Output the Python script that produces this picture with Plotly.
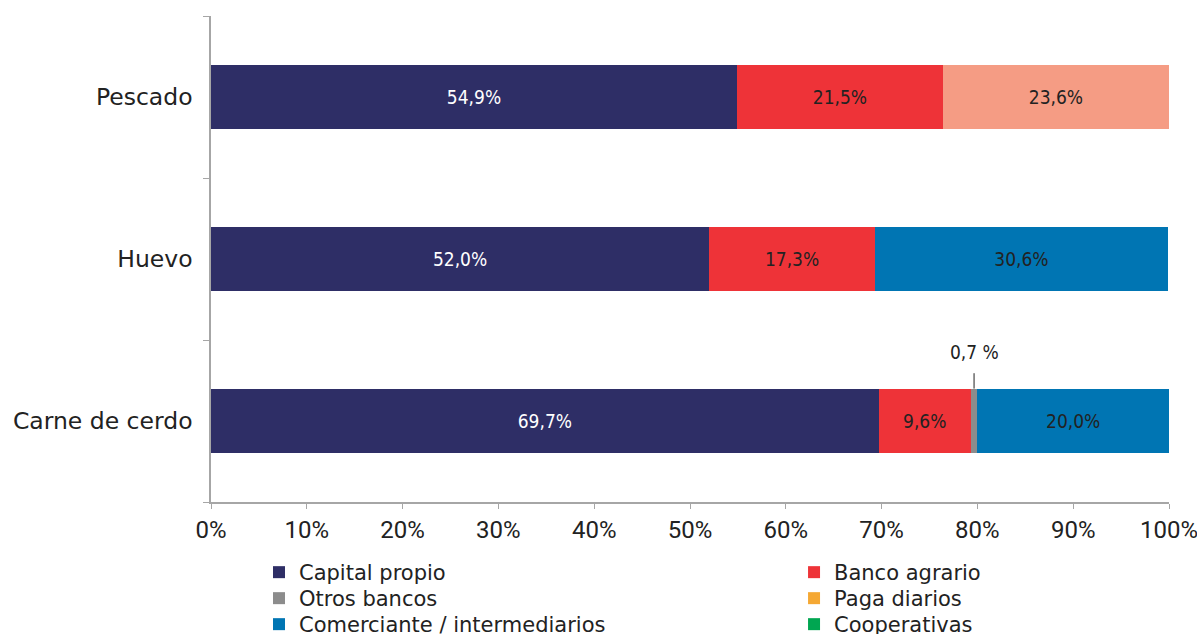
import plotly.graph_objects as go

categories = ["Carne de cerdo", "Huevo", "Pescado"]
capital_propio = [69.7, 52.0, 54.9]
banco_agrario = [9.6, 17.3, 21.5]
otros_bancos = [0.7, 0.0, 0.0]
paga_diarios = [0.0, 0.0, 0.0]
comerciante = [20.0, 30.6, 0.0]
cooperativas = [0.0, 0.0, 0.0]
otros = [0.0, 0.0, 23.6]
x_tickvals = [0, 10, 20, 30, 40, 50, 60, 70, 80, 90, 100]
x_ticktext = ["0%", "10%", "20%", "30%", "40%", "50%", "60%", "70%", "80%", "90%", "100%"]

# name, values, colour, label colour, legend slot (None = hidden)
series = [
    ("Capital propio", capital_propio, "#2E2E66", "white", "legend"),
    ("Banco agrario", banco_agrario, "#EE3338", "#222222", "legend2"),
    ("Otros bancos", otros_bancos, "#8C8C8C", "#222222", "legend3"),
    ("Paga diarios", paga_diarios, "#F5A833", "#222222", "legend4"),
    ("Comerciante / intermediarios", comerciante, "#0075B3", "#222222", "legend5"),
    ("Cooperativas", cooperativas, "#00A651", "#222222", "legend6"),
    ("Otros", otros, "#F59C84", "#222222", None),
]


def fmt(v):
    return (f"{v:.1f}".replace(".", ",") + "%") if v >= 1 else ""


fig = go.Figure()
for name, vals, color, tcolor, leg in series:
    fig.add_trace(go.Bar(
        y=categories, x=vals, name=name, orientation="h",
        marker=dict(color=color, line=dict(width=0)),
        text=[fmt(v) for v in vals], textposition="inside",
        insidetextanchor="middle", textangle=0,
        textfont=dict(family="DejaVu Sans Condensed", size=19, color=tcolor),
        width=0.4, showlegend=leg is not None,
        legend=leg if leg else "legend",
    ))

# small-value callout for "Otros bancos" in Carne de cerdo
x_call = capital_propio[0] + banco_agrario[0] + otros_bancos[0] / 2
fig.add_shape(type="line", xref="x", yref="y", x0=x_call, x1=x_call,
              y0=0.2, y1=0.295, line=dict(color="#222222", width=1))
fig.add_annotation(x=x_call, y=0.2, xref="x", yref="y", yshift=37,
                   text=f"{otros_bancos[0]:.1f}".replace(".", ",") + " %",
                   showarrow=False,
                   font=dict(family="DejaVu Sans Condensed", size=19, color="#222222"))

legend_common = dict(orientation="v", xanchor="left", yanchor="top",
                     traceorder="normal", itemwidth=30,
                     font=dict(family="DejaVu Sans", size=21, color="#222222"),
                     bgcolor="rgba(0,0,0,0)")
col_x = [0.0501, 0.6086]
row_y = [-0.1029, -0.1564, -0.2099]

fig.update_layout(
    barmode="stack",
    width=1197, height=634,
    margin=dict(l=211, r=28, t=16, b=132, autoexpand=False),
    paper_bgcolor="white", plot_bgcolor="white",
    uniformtext=dict(mode=False),
    xaxis=dict(range=[0, 100], tickmode="array", tickvals=x_tickvals,
               ticktext=x_ticktext, ticklabeloverflow="allow",
               showgrid=False, zeroline=False, showline=True,
               linecolor="#A6A6A6", linewidth=1.5, ticks="outside",
               tickcolor="#A6A6A6", ticklen=5,
               tickfont=dict(family="Liberation Sans Narrow, Roboto", size=24, color="#222222")),
    yaxis=dict(categoryorder="array", categoryarray=categories,
               range=[-0.5, 2.5], showgrid=False, zeroline=False,
               showline=True, linecolor="#A6A6A6", linewidth=1.5,
               ticks="outside", tickson="boundaries", tickcolor="#A6A6A6",
               ticklen=6, ticklabelstandoff=12,
               tickfont=dict(family="DejaVu Sans", size=23.5, color="#222222")),
    legend=dict(x=col_x[0], y=row_y[0], **legend_common),
    legend2=dict(x=col_x[1], y=row_y[0], **legend_common),
    legend3=dict(x=col_x[0], y=row_y[1], **legend_common),
    legend4=dict(x=col_x[1], y=row_y[1], **legend_common),
    legend5=dict(x=col_x[0], y=row_y[2], **legend_common),
    legend6=dict(x=col_x[1], y=row_y[2], **legend_common),
)

fig.write_html(
    "out.html",
    config={"displayModeBar": False},
    post_script="document.body.style.margin='0';document.body.style.overflow='hidden';",
)
